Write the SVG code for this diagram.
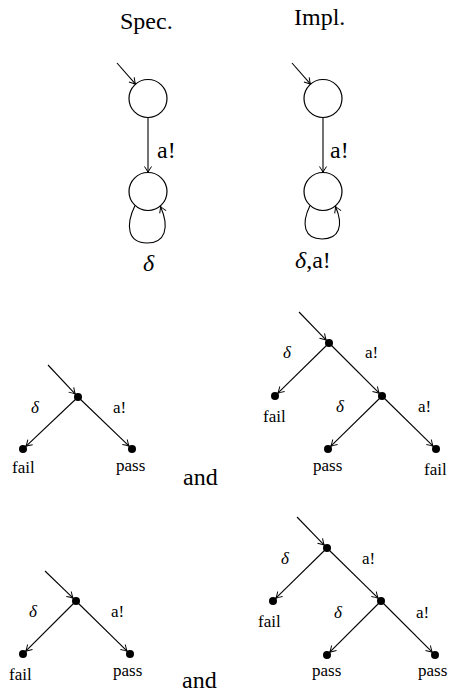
<svg xmlns="http://www.w3.org/2000/svg" width="450" height="698" viewBox="0 0 450 698">
<defs>
<marker id="ah" viewBox="-8 -5 10 10" markerWidth="10" markerHeight="10" refX="0" refY="0" orient="auto" markerUnits="userSpaceOnUse">
<path d="M-6,-3.5 Q-2,-0.8 0,0 Q-2,0.8 -6,3.5" fill="none" stroke="#000" stroke-width="1"/>
</marker>
</defs>
<style>
.big{font-size:24px}
.sm{font-size:17px}
.it{font-style:italic}
.st{fill:#fff;stroke:#000;stroke-width:1.2}
.dot{fill:#000}
.e{fill:none;stroke:#000;stroke-width:1.1;marker-end:url(#ah)}
</style>
<g font-family="Liberation Serif, DejaVu Serif, serif" fill="#000">
<text class="big" x="120" y="29">Spec.</text>
<text class="big" x="294" y="25">Impl.</text>
</g>
<g id="connectors">
<line class="e" x1="117" y1="63" x2="135.5" y2="84.2"/>
<line class="e" x1="148" y1="117.5" x2="148" y2="172.5"/>
<path class="e" d="M135,205.4 C125,226 128,243 147,243 C165,243 170,228 160.5,206.5"/>
<line class="e" x1="292" y1="63" x2="310.5" y2="84.2"/>
<line class="e" x1="323" y1="117.5" x2="323" y2="172.5"/>
<path class="e" d="M310,205.4 C301,224 304,239 322,239 C339,239 344,226 335.5,206.5"/>
<line class="e" x1="48" y1="365" x2="75.3" y2="394.1"/>
<line class="e" x1="78" y1="397" x2="25.9" y2="446.3"/>
<line class="e" x1="78" y1="397" x2="129.1" y2="446.2"/>
<line class="e" x1="299" y1="312" x2="326.2" y2="340.1"/>
<line class="e" x1="329" y1="343" x2="277.9" y2="393.2"/>
<line class="e" x1="329" y1="343" x2="379.2" y2="393.2"/>
<line class="e" x1="382" y1="396" x2="330.9" y2="446.2"/>
<line class="e" x1="382" y1="396" x2="433.1" y2="446.2"/>
<line class="e" x1="45" y1="571" x2="73.1" y2="598.2"/>
<line class="e" x1="76" y1="601" x2="25.8" y2="651.2"/>
<line class="e" x1="76" y1="601" x2="127.1" y2="651.2"/>
<line class="e" x1="297" y1="517" x2="324.2" y2="545.1"/>
<line class="e" x1="327" y1="548" x2="275.9" y2="598.2"/>
<line class="e" x1="327" y1="548" x2="378.1" y2="598.2"/>
<line class="e" x1="381" y1="601" x2="329.8" y2="652.2"/>
<line class="e" x1="381" y1="601" x2="432.2" y2="652.2"/>
</g>
<g id="spec-s0"><circle class="st" cx="148" cy="98.5" r="19"/></g>
<g id="spec-s1"><circle class="st" cx="148" cy="191.5" r="19"/></g>
<g id="impl-s0"><circle class="st" cx="323" cy="98.5" r="19"/></g>
<g id="impl-s1"><circle class="st" cx="323" cy="191.5" r="19"/></g>
<g font-family="Liberation Serif, DejaVu Serif, serif" fill="#000">
<text class="big" x="157" y="158">a!</text>
<text class="big" x="330" y="158">a!</text>
<text class="big it" x="143" y="271">δ</text>
<text class="big" x="295" y="268"><tspan class="it">δ</tspan>,a!</text>
</g>
<g id="t1" font-family="Liberation Serif, DejaVu Serif, serif">
<circle class="dot" cx="78" cy="397" r="4"/>
<circle class="dot" cx="23" cy="449" r="4"/>
<circle class="dot" cx="132" cy="449" r="4"/>
<text class="sm it" x="31" y="413">δ</text>
<text class="sm" x="113" y="413">a!</text>
<text class="sm" x="12" y="473">fail</text>
<text class="sm" x="116" y="471">pass</text>
</g>
<text class="big" font-family="Liberation Serif, DejaVu Serif, serif" x="183" y="485">and</text>
<g id="t2" font-family="Liberation Serif, DejaVu Serif, serif">
<circle class="dot" cx="329" cy="343" r="4"/>
<circle class="dot" cx="275" cy="396" r="4"/>
<circle class="dot" cx="382" cy="396" r="4"/>
<circle class="dot" cx="328" cy="449" r="4"/>
<circle class="dot" cx="436" cy="449" r="4"/>
<text class="sm it" x="283" y="358">δ</text>
<text class="sm" x="365" y="358">a!</text>
<text class="sm" x="263" y="422">fail</text>
<text class="sm it" x="336" y="412">δ</text>
<text class="sm" x="418" y="412">a!</text>
<text class="sm" x="313" y="471">pass</text>
<text class="sm" x="424" y="475">fail</text>
</g>
<g id="t3" font-family="Liberation Serif, DejaVu Serif, serif">
<circle class="dot" cx="76" cy="601" r="4"/>
<circle class="dot" cx="23" cy="654" r="4"/>
<circle class="dot" cx="130" cy="654" r="4"/>
<text class="sm it" x="29" y="617">δ</text>
<text class="sm" x="111" y="617">a!</text>
<text class="sm" x="9" y="680">fail</text>
<text class="sm" x="113" y="676">pass</text>
</g>
<text class="big" font-family="Liberation Serif, DejaVu Serif, serif" x="182" y="688">and</text>
<g id="t4" font-family="Liberation Serif, DejaVu Serif, serif">
<circle class="dot" cx="327" cy="548" r="4"/>
<circle class="dot" cx="273" cy="601" r="4"/>
<circle class="dot" cx="381" cy="601" r="4"/>
<circle class="dot" cx="327" cy="655" r="4"/>
<circle class="dot" cx="435" cy="655" r="4"/>
<text class="sm it" x="281" y="564">δ</text>
<text class="sm" x="362" y="564">a!</text>
<text class="sm" x="258" y="627">fail</text>
<text class="sm it" x="334" y="618">δ</text>
<text class="sm" x="416" y="618">a!</text>
<text class="sm" x="312" y="676">pass</text>
<text class="sm" x="418" y="676">pass</text>
</g>
</svg>
